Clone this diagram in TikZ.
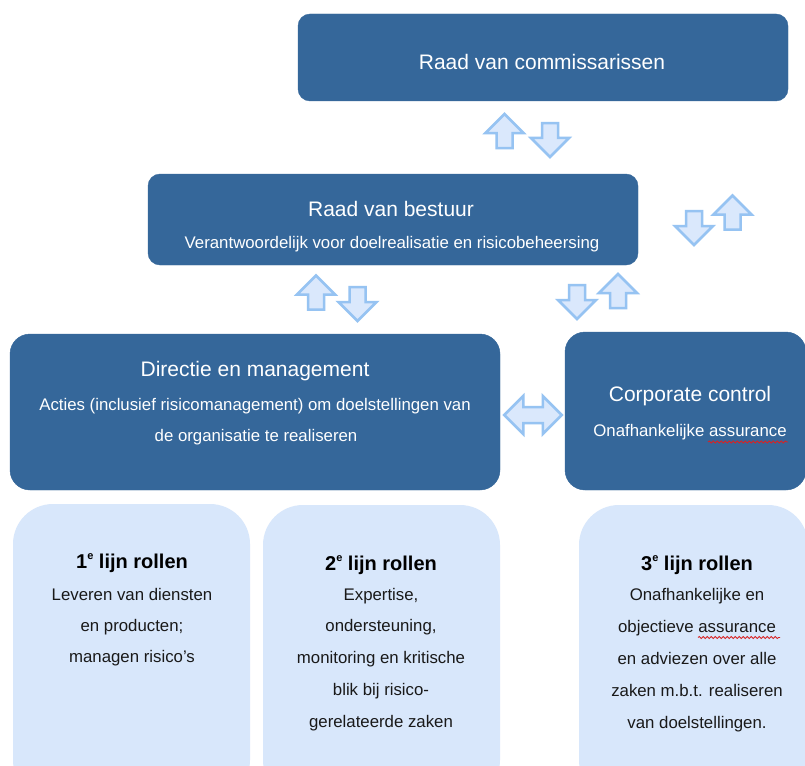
\documentclass[tikz,border=0pt]{standalone}
\usepackage{fontspec}
\setmainfont{Liberation Sans}
\usepackage{tikz}
\usetikzlibrary{shapes.arrows, decorations.pathmorphing}
\usepackage{xcolor}
\definecolor{boardblue}{RGB}{53,103,154}
\definecolor{lijnfill}{RGB}{216,231,251}
\definecolor{pijlfill}{RGB}{218,232,252}
\definecolor{pijlline}{RGB}{150,195,242}
\definecolor{spellred}{RGB}{215,35,35}
\newcommand{\rang}{\raisebox{0.45em}{\fontsize{11}{11}\selectfont e}}

\begin{document}
\begin{tikzpicture}[x=1pt, y=-1pt,
	board/.style={fill=boardblue, draw=boardblue, rounded corners=12, inner sep=0},
	lijn/.style={fill=lijnfill, draw=none, rounded corners=40, inner sep=0},
	kop/.style={anchor=base, text=white, inner sep=0, font=\fontsize{21}{25}\selectfont},
	sub/.style={anchor=base, text=white, inner sep=0, font=\fontsize{16.8}{20}\selectfont},
	lijnkop/.style={anchor=base, text=black, inner sep=0, font=\fontsize{20}{24}\selectfont\bfseries},
	body/.style={anchor=base, text=black!90, inner sep=0, font=\fontsize{16.8}{20}\selectfont},
	pijl/.style={single arrow, fill=pijlfill, draw=pijlline, line width=2.5, inner sep=6.75,
		minimum height=34, minimum width=36, single arrow head extend=11},
	op/.style={pijl, shape border rotate=90},
	neer/.style={pijl, shape border rotate=270},
	dubbel/.style={double arrow, fill=pijlfill, draw=pijlline, line width=2.5, inner sep=6.75,
		minimum height=57.5, minimum width=36, double arrow head extend=11},
	spell/.style={spellred, line width=0.8, decorate, decoration={snake, segment length=4, amplitude=1.1}}]
		\clip (0,0) rectangle (805,765);
		\fill[white] (0,0) rectangle (805,765);
		
		\node[board, minimum width=490, minimum height=87] (rvc) at (543,57.5) {};
		\node[board, minimum width=490, minimum height=91] (rvb) at (393,219.5) {};
		\node[board, rounded corners=20, minimum width=490, minimum height=156] (dm) at (255,412) {};
		\node[board, rounded corners=20, minimum width=241, minimum height=158] (cc) at (685.5,411) {};
		\node[lijn, minimum width=237, minimum height=296] (lijn1) at (131.5,652) {};
		\node[lijn, minimum width=237, minimum height=295] (lijn2) at (381.5,652.5) {};
		\node[lijn, minimum width=229, minimum height=295] (lijn3) at (693.5,652.5) {};
		
		\node[kop] (rvc-kop) at (542,70) {Raad van commissarissen};
		\node[kop] (rvb-kop) at (391,216) {Raad van bestuur};
		\node[sub] (rvb-sub) at (392,248.5) {Verantwoordelijk voor doelrealisatie en risicobeheersing};
		\node[kop] (dm-kop) at (255,376) {Directie en management};
		\node[sub] (dm-sub1) at (255,410) {Acties (inclusief risicomanagement) om doelstellingen van};
		\node[sub] (dm-sub2) at (256,441) {de organisatie te realiseren};
		\node[kop] (cc-kop) at (690,401) {Corporate control};
		\node[sub] (cc-sub) at (690,436) {Onafhankelijke assurance};
		
		\node[lijnkop] (lijn1-kop) at (132,568) {1\rang\ lijn rollen};
		\node[lijnkop] (lijn2-kop) at (381,570) {2\rang\ lijn rollen};
		\node[lijnkop] (lijn3-kop) at (697,570) {3\rang\ lijn rollen};
		\foreach \regel [count=\k from 0] in {Leveren van diensten, en producten;, managen risico’s}
			\node[body] (lijn1-\k) at (132,{600+31*\k}) {\regel};
		\foreach \regel [count=\k from 0] in {Expertise{,}, ondersteuning{,}, monitoring en kritische, blik bij risico-, gerelateerde zaken}
			\node[body] (lijn2-\k) at (381,{600+31.75*\k}) {\regel};
		\foreach \regel [count=\k from 0] in {Onafhankelijke en, objectieve assurance, en adviezen over alle, zaken m.b.t. realiseren, van doelstellingen.}
			\node[body] (lijn3-\k) at (697,{600+32*\k}) {\regel};
		
		\draw[spell] (708,442) -- (788,442);
		\draw[spell] (698,637.5) -- (780,637.5);
		
		\node[op] (op1) at (504.5,135) {};
		\node[neer] (neer1) at (550,136) {};
		\node[neer] (neer2) at (694,224) {};
		\node[op] (op2) at (732.5,216.5) {};
		\node[op] (op3) at (316,296.5) {};
		\node[neer] (neer3) at (357.5,300) {};
		\node[neer] (neer4) at (577,298) {};
		\node[op] (op4) at (618,295) {};
		\node[dubbel] (dm-cc) at (533,415) {};
	\end{tikzpicture}
\end{document}
